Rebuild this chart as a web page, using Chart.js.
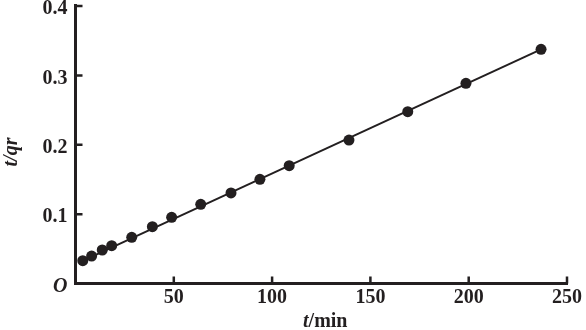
<!DOCTYPE html>
<html>
<head>
<meta charset="utf-8">
<script src="https://cdn.jsdelivr.net/npm/chart.js@4/dist/chart.umd.min.js"></script>
<style>
  html, body { margin: 0; padding: 0; background: #fff; }
  #wrap { width: 586px; height: 330px; }
</style>
</head>
<body>
<div id="wrap"><canvas id="c" width="586" height="330"></canvas></div>
<script>
// Sampling times (min) and measured t/qr values
const times = [3.7, 8.2, 13.6, 18.4, 28.6, 39.1, 48.9, 63.7, 79.1, 93.8, 108.7, 139.1, 169.0, 198.6, 236.8];
const tqr   = [0.0329, 0.0396, 0.0483, 0.0545, 0.0666, 0.0819, 0.0954, 0.1142, 0.1305, 0.1502, 0.1698, 0.2068, 0.2476, 0.2886, 0.3376];

// Endpoints of the fitted straight line
const fitT   = [2.0, 236.8];
const fitTqr = [0.0305, 0.3376];

// Axis tick values
const xTicks = [0, 50, 100, 150, 200, 250];
const yTicks = [0, 0.1, 0.2, 0.3, 0.4];

const INK = '#231f20';
const SERIF = '"Liberation Serif", "Times New Roman", serif';
const FS = 20;

// Axis lines, inward tick marks and the axis titles
const axesDecor = {
  id: 'axesDecor',
  afterDraw(chart) {
    const { ctx, chartArea: a, scales: { x, y } } = chart;
    ctx.save();
    ctx.strokeStyle = INK;
    ctx.fillStyle = INK;
    ctx.lineCap = 'butt';

    ctx.lineWidth = 2.5;
    ctx.beginPath();
    xTicks.forEach(v => {
      if (v === 0) return;
      const px = x.getPixelForValue(v);
      ctx.moveTo(px, a.bottom);
      ctx.lineTo(px, a.bottom - 7);
    });
    yTicks.forEach(v => {
      if (v === 0) return;
      const py = y.getPixelForValue(v);
      ctx.moveTo(a.left, py);
      ctx.lineTo(a.left + 7, py);
    });
    ctx.stroke();

    ctx.lineWidth = 3;
    ctx.beginPath();
    ctx.moveTo(a.left, a.top - 2);
    ctx.lineTo(a.left, a.bottom);
    ctx.lineTo(a.right + 1, a.bottom);
    ctx.stroke();

    // x title: italic t followed by upright /min
    ctx.textBaseline = 'alphabetic';
    const italic = 'italic bold ' + FS + 'px ' + SERIF;
    const upright = 'bold ' + FS + 'px ' + SERIF;
    ctx.font = italic;
    const wT = ctx.measureText('t').width;
    ctx.font = upright;
    const wRest = ctx.measureText('/min').width;
    const cx = (a.left + a.right) / 2 + 4;
    const sx = cx - (wT + wRest) / 2;
    ctx.font = italic;
    ctx.textAlign = 'left';
    ctx.fillText('t', sx, 327);
    ctx.font = upright;
    ctx.fillText('/min', sx + wT, 327);

    // y title, rotated
    ctx.translate(17, 152);
    ctx.rotate(-Math.PI / 2);
    ctx.font = 'italic bold ' + FS + 'px ' + SERIF;
    ctx.textAlign = 'center';
    ctx.fillText('t/qr', 0, 0);
    ctx.restore();
  }
};

new Chart(document.getElementById('c'), {
  type: 'scatter',
  data: {
    datasets: [
      {
        type: 'line',
        data: fitT.map((t, i) => ({ x: t, y: fitTqr[i] })),
        borderColor: INK,
        borderWidth: 2,
        pointRadius: 0,
        fill: false,
        tension: 0,
        order: 2
      },
      {
        data: times.map((t, i) => ({ x: t, y: tqr[i] })),
        backgroundColor: INK,
        borderColor: INK,
        pointRadius: 5.5,
        pointHoverRadius: 5.5,
        borderWidth: 0,
        order: 1
      }
    ]
  },
  options: {
    responsive: false,
    animation: false,
    events: [],
    layout: { padding: { left: 0, right: 19, top: 6, bottom: 0 } },
    plugins: { legend: { display: false }, tooltip: { enabled: false } },
    scales: {
      x: {
        type: 'linear',
        min: 0, max: 250,
        afterBuildTicks: s => { s.ticks = xTicks.map(v => ({ value: v })); },
        afterFit: s => { s.height = 46.5; s.paddingLeft = 0; s.paddingRight = 0; },
        grid: { display: false, drawTicks: false },
        border: { display: false },
        ticks: {
          color: INK,
          padding: 2,
          maxRotation: 0,
          font: { family: SERIF, size: FS, weight: 'bold' },
          callback: v => (v === 0 ? '' : String(v))
        }
      },
      y: {
        type: 'linear',
        min: 0, max: 0.4,
        afterBuildTicks: s => { s.ticks = yTicks.map(v => ({ value: v })); },
        afterFit: s => { s.width = 75.5; s.paddingTop = 0; s.paddingBottom = 0; },
        grid: { display: false, drawTicks: false },
        border: { display: false },
        ticks: {
          color: INK,
          padding: 8,
          labelOffset: 3,
          font: ctx => (ctx.tick && ctx.tick.value === 0
            ? { family: SERIF, size: FS, style: 'italic', weight: 'bold' }
            : { family: SERIF, size: FS, weight: 'bold' }),
          callback: v => (v === 0 ? 'O' : v.toFixed(1))
        }
      }
    }
  },
  plugins: [axesDecor]
});
</script>
</body>
</html>
